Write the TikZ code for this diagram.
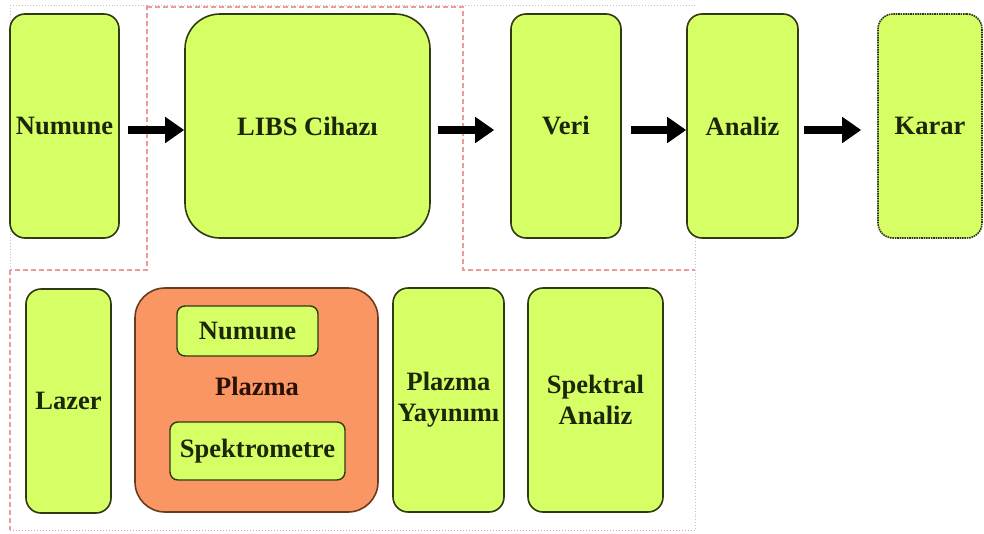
\documentclass[tikz,border=0pt]{standalone}
\usepackage{fontspec}
\setmainfont{Liberation Serif}
\usetikzlibrary{arrows.meta}
\definecolor{limefill}{HTML}{D6FF66}
\definecolor{limeedge}{HTML}{2E3A12}
\definecolor{orangefill}{HTML}{FA9664}
\definecolor{orangeedge}{HTML}{6A3A22}
\definecolor{txtcol}{HTML}{1C2608}
\definecolor{plztxt}{HTML}{2A1006}
\definecolor{dashred}{HTML}{EE9A9A}
\definecolor{dotgray}{HTML}{C4C4C4}
\begin{document}
\begin{tikzpicture}[x=1pt,y=-1pt,
  lbl/.style={font=\fontsize{26.5}{31}\selectfont\bfseries},
  box/.style={draw=limeedge, fill=limefill, line width=1.6pt, rounded corners=15pt,
    inner sep=0pt, align=center, lbl, text=txtcol, minimum height=224pt},
  smallbox/.style={box, rounded corners=8pt, line width=1.4pt},
  plzbox/.style={draw=orangeedge, fill=orangefill, line width=1.6pt, rounded corners=30pt,
    inner sep=0pt, minimum width=243pt, minimum height=224pt},
  flow/.style={line width=8pt, -{Triangle[length=19pt,width=25pt]}, black},
  redline/.style={dashred, line width=1.1pt, dash pattern=on 5pt off 3pt},
  grayline/.style={dotgray, line width=0.9pt, dotted}
]
\useasboundingbox (0,0) rectangle (984,533);

% region outlines
\draw[grayline] (10,5) -- (695,5);
\draw[grayline] (10,5) -- (10,270);
\draw[grayline] (695,238) -- (695,530);
\draw[redline] (147,5) -- (147,270) -- (10,270);
\draw[redline] (147,7) -- (463,7) -- (463,270) -- (695,270);
\draw[redline] (10,270) -- (10,530);
\draw[dashred, line width=1pt, dotted] (10,530) -- (695,530);

% top row
\node[box, minimum width=109pt] (numT) at (64.5,126) {Numune};
\node[box, minimum width=245pt, rounded corners=35pt] (libs) at (307.5,126) {LIBS Cihazı};
\node[box, minimum width=110pt] (veri) at (566,126) {Veri};
\node[box, minimum width=111pt] (analiz) at (742.5,126) {Analiz};
\node[box, minimum width=104pt, dash pattern=on 1.6pt off 0.8pt] (karar) at (930,126) {Karar};

\draw[flow, shorten <=8pt] ([yshift=-4pt]numT.east) -- ([yshift=-4pt]libs.west);
\draw[flow, shorten <=7pt, shorten >=16pt] ([yshift=-4pt]libs.east) -- ([yshift=-4pt]veri.west);
\draw[flow, shorten <=9pt] ([yshift=-4pt]veri.east) -- ([yshift=-4pt]analiz.west);
\draw[flow, shorten <=5pt, shorten >=16pt] ([yshift=-4pt]analiz.east) -- ([yshift=-4pt]karar.west);

% bottom row
\node[box, minimum width=85pt] (lazer) at (68.5,401) {Lazer};
\node[plzbox] (plazma) at (256.5,400) {};
\node[smallbox, minimum width=141pt, minimum height=50pt] (numB) at (247.5,331) {Numune};
\node[lbl, text=plztxt, inner sep=0pt] (plzlbl) at (257,386) {Plazma};
\node[smallbox, minimum width=175pt, minimum height=58pt] (spek) at (257.5,451) {Spektrometre};
\node[box, minimum width=111pt] (yay) at (448.5,400) {Plazma\\Yayınımı};
\node[box, minimum width=135pt] (spa) at (595.5,400) {Spektral\\Analiz};
\end{tikzpicture}
\end{document}
